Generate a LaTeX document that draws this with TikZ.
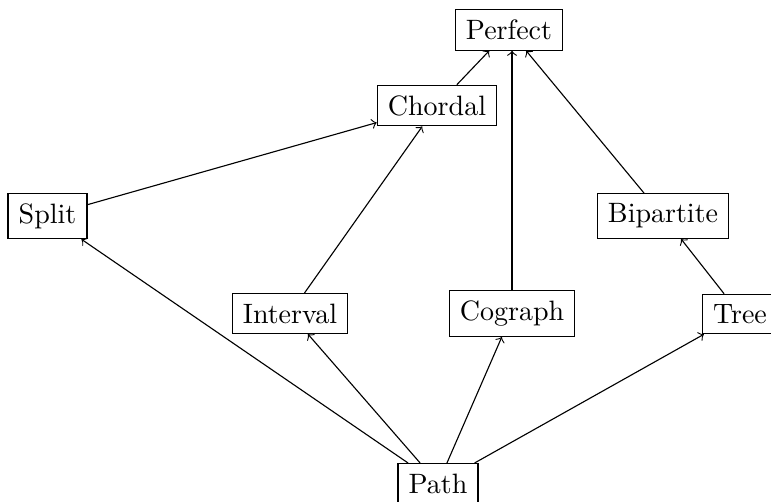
\documentclass[tikz,border=0pt]{standalone}
\begin{document}
\begin{tikzpicture}[x=0.357pt, y=-0.357pt,
  cls/.style={draw, line width=0.4pt, inner xsep=3.8pt, inner ysep=3.6pt,
              font=\fontsize{10}{12}\selectfont},
  incl/.style={->, line width=0.4pt}]
  % page frame; the outer nodes run past its right and bottom edges
  \useasboundingbox (0,0) rectangle (771,501);
  \clip (0,0) rectangle (771,501);

  % graph classes
  \node[cls] (perfect)   at (509,30)    {Perfect};
  \node[cls] (chordal)   at (437,105.5) {Chordal};
  \node[cls] (split)     at (47.5,216)  {Split};
  \node[cls] (bipartite) at (663,216)   {Bipartite};
  \node[cls] (interval)  at (290,313.5) {Interval};
  \node[cls] (cograph)   at (512,313.5) {Cograph};
  \node[cls] (tree)      at (740,314)   {Tree};
  \node[cls] (path)      at (438,483.5) {Path};

  % inclusions
  \draw[incl] (chordal) -- (perfect);
  \draw[incl] (cograph.north) -- (cograph.north |- perfect.south);
  \draw[incl] (bipartite) -- (perfect);
  \draw[incl] (split) -- (chordal);
  \draw[incl] (interval) -- (chordal);
  \draw[incl] (tree) -- (bipartite);
  \draw[incl] (path) -- (split);
  \draw[incl] (path) -- (interval);
  \draw[incl] (path) -- (cograph);
  \draw[incl] (path) -- (tree);
\end{tikzpicture}
\end{document}
